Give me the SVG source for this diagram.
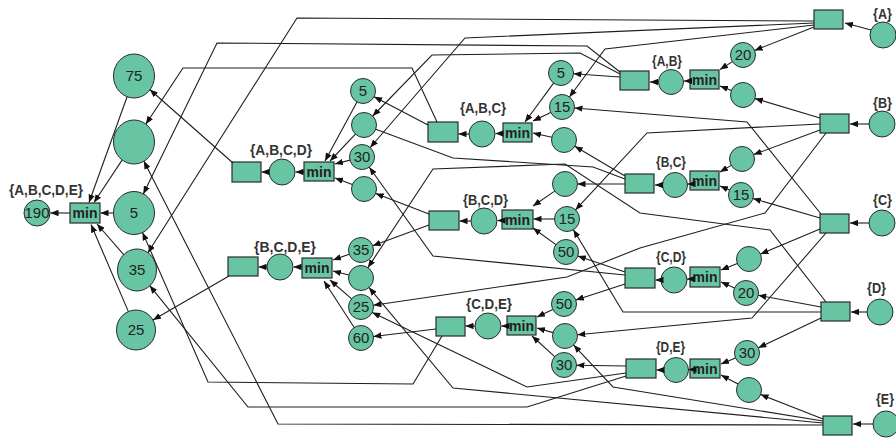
<svg xmlns="http://www.w3.org/2000/svg" width="896" height="439" viewBox="0 0 896 439">
<defs>
<marker id="ah" viewBox="0 0 10 8" refX="10" refY="4" markerWidth="8" markerHeight="6.4" markerUnits="userSpaceOnUse" orient="auto"><path d="M0,0L10,4L0,8z" fill="#111"/></marker>
</defs>
<style>
.c{fill:#67c5a4;stroke:#2b2b2b;stroke-width:1}
.r{fill:#67c5a4;stroke:#2b2b2b;stroke-width:1.2}
.l path{fill:none;stroke:#1e1e1e;stroke-width:1.1}
.l .a{marker-end:url(#ah)}
.n{font-family:"Liberation Sans",Arial,sans-serif;font-size:15px;fill:#222;text-anchor:middle}
.m{font-family:"Liberation Sans",Arial,sans-serif;font-size:14px;font-weight:bold;fill:#222;text-anchor:middle}
.t{font-family:"Liberation Sans",Arial,sans-serif;font-size:14px;font-weight:bold;fill:#333}
</style>
<rect width="896" height="439" fill="#fff"/>

<!-- Level 1 -->
<g id="A"><rect class="r" x="814" y="10" width="29" height="19"/><circle class="c" cx="883" cy="35" r="13"/><text class="t" x="873" y="19" textLength="19" lengthAdjust="spacingAndGlyphs">{A}</text></g>
<g id="B"><rect class="r" x="820" y="114" width="29" height="19"/><circle class="c" cx="882" cy="124" r="13"/><text class="t" x="873" y="108" textLength="19" lengthAdjust="spacingAndGlyphs">{B}</text></g>
<g id="C"><rect class="r" x="820" y="214" width="29" height="19"/><circle class="c" cx="882" cy="223" r="13"/><text class="t" x="873" y="205" textLength="19" lengthAdjust="spacingAndGlyphs">{C}</text></g>
<g id="D"><rect class="r" x="821" y="302" width="29" height="19"/><circle class="c" cx="880" cy="312" r="13"/><text class="t" x="867" y="293" textLength="19" lengthAdjust="spacingAndGlyphs">{D}</text></g>
<g id="E"><rect class="r" x="823" y="416" width="29" height="19"/><circle class="c" cx="886" cy="424" r="13"/><text class="t" x="876" y="404" textLength="18" lengthAdjust="spacingAndGlyphs">{E}</text></g>

<!-- Level 2 -->
<g id="AB"><rect class="r" x="620" y="71" width="29" height="19"/><circle class="c" cx="671" cy="82" r="12.5"/><rect class="r" x="690" y="70" width="29" height="19"/><text class="m" x="704.5" y="85">min</text><text class="t" x="652" y="66" textLength="30" lengthAdjust="spacingAndGlyphs">{A,B}</text></g>
<g id="AB-in1"><circle class="c" cx="743" cy="55" r="12.5"/><text class="n" x="743" y="60">20</text></g>
<g id="AB-in2"><circle class="c" cx="743" cy="95" r="12.5"/></g>
<g id="BC"><rect class="r" x="625" y="174" width="29" height="19"/><circle class="c" cx="675" cy="185" r="12.5"/><rect class="r" x="690" y="171" width="29" height="19"/><text class="m" x="704.5" y="186">min</text><text class="t" x="656" y="167" textLength="30" lengthAdjust="spacingAndGlyphs">{B,C}</text></g>
<g id="BC-in1"><circle class="c" cx="742" cy="159" r="12.5"/></g>
<g id="BC-in2"><circle class="c" cx="741" cy="195" r="12.5"/><text class="n" x="741" y="200">15</text></g>
<g id="CD"><rect class="r" x="625" y="268" width="30" height="20"/><circle class="c" cx="674" cy="280" r="13"/><rect class="r" x="690" y="267" width="30" height="20"/><text class="m" x="705" y="282">min</text><text class="t" x="656" y="262" textLength="30" lengthAdjust="spacingAndGlyphs">{C,D}</text></g>
<g id="CD-in1"><circle class="c" cx="749" cy="259" r="12.5"/></g>
<g id="CD-in2"><circle class="c" cx="746" cy="293" r="12.5"/><text class="n" x="746" y="298">20</text></g>
<g id="DE"><rect class="r" x="626" y="359" width="30" height="19"/><circle class="c" cx="676" cy="370" r="12.5"/><rect class="r" x="690" y="359" width="30" height="19"/><text class="m" x="705" y="374">min</text><text class="t" x="656" y="352" textLength="29" lengthAdjust="spacingAndGlyphs">{D,E}</text></g>
<g id="DE-in1"><circle class="c" cx="747" cy="353" r="12.5"/><text class="n" x="747" y="358">30</text></g>
<g id="DE-in2"><circle class="c" cx="749" cy="390" r="12.5"/></g>

<!-- Level 3 -->
<g id="ABC"><rect class="r" x="428" y="122" width="30" height="20"/><circle class="c" cx="482" cy="134" r="13"/><rect class="r" x="503" y="123" width="29" height="19"/><text class="m" x="517.5" y="138">min</text><text class="t" x="460" y="113" textLength="46" lengthAdjust="spacingAndGlyphs">{A,B,C}</text></g>
<g id="ABC-in1"><circle class="c" cx="561" cy="73" r="12.5"/><text class="n" x="561" y="78">5</text></g>
<g id="ABC-in2"><circle class="c" cx="562" cy="107" r="12.5"/><text class="n" x="562" y="112">15</text></g>
<g id="ABC-in3"><circle class="c" cx="564" cy="140" r="12.5"/></g>
<g id="BCD"><rect class="r" x="429" y="211" width="30" height="19"/><circle class="c" cx="484" cy="221" r="13"/><rect class="r" x="502" y="210" width="31" height="19"/><text class="m" x="517.5" y="225">min</text><text class="t" x="463" y="205" textLength="45" lengthAdjust="spacingAndGlyphs">{B,C,D}</text></g>
<g id="BCD-in1"><circle class="c" cx="565" cy="184" r="12.5"/></g>
<g id="BCD-in2"><circle class="c" cx="567" cy="219" r="12.5"/><text class="n" x="567" y="224">15</text></g>
<g id="BCD-in3"><circle class="c" cx="566" cy="252" r="12.5"/><text class="n" x="566" y="257">50</text></g>
<g id="CDE"><rect class="r" x="436" y="317" width="29" height="19"/><circle class="c" cx="488" cy="326" r="13"/><rect class="r" x="507" y="316" width="29" height="19"/><text class="m" x="521.5" y="331">min</text><text class="t" x="466" y="309" textLength="46" lengthAdjust="spacingAndGlyphs">{C,D,E}</text></g>
<g id="CDE-in1"><circle class="c" cx="564" cy="304" r="12.5"/><text class="n" x="564" y="309">50</text></g>
<g id="CDE-in2"><circle class="c" cx="565" cy="336" r="12.5"/></g>
<g id="CDE-in3"><circle class="c" cx="564" cy="365" r="12.5"/><text class="n" x="564" y="370">30</text></g>

<!-- Level 4 -->
<g id="ABCD"><rect class="r" x="232" y="162" width="29" height="20"/><circle class="c" cx="282" cy="172" r="13"/><rect class="r" x="304" y="162" width="30" height="19"/><text class="m" x="319" y="177">min</text><text class="t" x="250" y="155" textLength="62" lengthAdjust="spacingAndGlyphs">{A,B,C,D}</text></g>
<g id="ABCD-in1"><circle class="c" cx="363" cy="91" r="12.5"/><text class="n" x="363" y="96">5</text></g>
<g id="ABCD-in2"><circle class="c" cx="364" cy="125" r="12.5"/></g>
<g id="ABCD-in3"><circle class="c" cx="362" cy="157" r="12.5"/><text class="n" x="362" y="162">30</text></g>
<g id="ABCD-in4"><circle class="c" cx="364" cy="189" r="12.5"/></g>
<g id="BCDE"><rect class="r" x="228" y="257" width="30" height="19"/><circle class="c" cx="280" cy="267" r="13"/><rect class="r" x="302" y="258" width="30" height="20"/><text class="m" x="317" y="273">min</text><text class="t" x="254" y="252" textLength="62" lengthAdjust="spacingAndGlyphs">{B,C,D,E}</text></g>
<g id="BCDE-in1"><circle class="c" cx="361" cy="250" r="12.5"/><text class="n" x="361" y="255">35</text></g>
<g id="BCDE-in2"><circle class="c" cx="361" cy="278" r="12.5"/></g>
<g id="BCDE-in3"><circle class="c" cx="361" cy="307" r="12.5"/><text class="n" x="361" y="312">25</text></g>
<g id="BCDE-in4"><circle class="c" cx="361" cy="338" r="12.5"/><text class="n" x="361" y="343">60</text></g>

<!-- Level 5 -->
<g id="ABCDE-in1"><ellipse class="c" cx="134" cy="76" rx="20.5" ry="22"/><text class="n" x="134" y="81">75</text></g>
<g id="ABCDE-in2"><ellipse class="c" cx="134" cy="142" rx="20.5" ry="22"/></g>
<g id="ABCDE-in3"><ellipse class="c" cx="134" cy="213" rx="20.5" ry="21.5"/><text class="n" x="134" y="218">5</text></g>
<g id="ABCDE-in4"><ellipse class="c" cx="137" cy="270" rx="19.5" ry="21"/><text class="n" x="137" y="275">35</text></g>
<g id="ABCDE-in5"><ellipse class="c" cx="136" cy="330" rx="19.5" ry="20"/><text class="n" x="136" y="335">25</text></g>
<g id="ABCDE"><rect class="r" x="70" y="203" width="30" height="20"/><text class="m" x="85" y="218">min</text><text class="t" x="9" y="195" textLength="74" lengthAdjust="spacingAndGlyphs">{A,B,C,D,E}</text></g>
<g id="ABCDE-out"><circle class="c" cx="37" cy="213" r="13"/><text class="n" x="37" y="218">190</text></g>

<g id="connectors" class="l">
<path class="a" d="M871,30L845,23"/>
<path class="a" d="M869,124L850,124"/>
<path class="a" d="M869,223L850,223"/>
<path class="a" d="M867,312L851,312"/>
<path class="a" d="M873,424L853,424"/>
<path class="a" d="M814,27L754.6,50.4"/>
<path class="a" d="M820,118L755,98.6"/>
<path class="a" d="M820,130L753.7,154.6"/>
<path class="a" d="M820,218L753,198.5"/>
<path class="a" d="M820,229L760.5,254.1"/>
<path class="a" d="M821,307L758.3,295.3"/>
<path class="a" d="M821,318L758.4,347.8"/>
<path class="a" d="M823,419L760.6,394.6"/>
<path class="a" d="M732.4,61.6L720,69.5"/>
<path class="a" d="M731.4,90.4L720,86"/>
<path class="a" d="M690,81L684,81"/>
<path class="a" d="M658.5,82L650,82"/>
<path class="a" d="M731.2,165.4L720,172"/>
<path class="a" d="M729.5,190.1L720,186"/>
<path class="a" d="M690,184L687.5,184"/>
<path class="a" d="M662,185L655,185"/>
<path class="a" d="M737.4,263.6L721,270"/>
<path class="a" d="M734.6,288L721,282"/>
<path class="a" d="M690,279L687,279"/>
<path class="a" d="M661,280L655.5,280"/>
<path class="a" d="M735.5,357.9L721,364"/>
<path class="a" d="M738,384.1L721,375"/>
<path class="a" d="M690,369.5L688.5,369.5"/>
<path class="a" d="M663,370L656.5,370"/>
<path class="a" d="M814,21L297,18L147.9,252.8"/>
<path class="a" d="M814,23L465,38L370.2,147.5"/>
<path class="a" d="M814,25L605,49L569.4,97"/>
<path class="a" d="M820,124L647,133L575.5,209.9"/>
<path class="a" d="M826,133L765,213L640,248L567,277L373.4,305.2"/>
<path class="a" d="M821,214L747,122L574.5,108"/>
<path class="a" d="M826,233L752,318L577.4,334.8"/>
<path class="a" d="M826,302L770,230L640,213L565,164L433,169L367.9,267.6"/>
<path class="a" d="M821,312L623,312L573.4,229.7"/>
<path class="a" d="M823,421L613,387L573.6,345.1"/>
<path class="a" d="M823,423L453,388L369,287.6"/>
<path class="a" d="M823,425L278,424L143.8,161.1"/>
<path class="a" d="M620,77L573.5,73.8"/>
<path class="a" d="M620,72L587,46L217,43L143.3,194"/>
<path class="a" d="M620,74L580,53L432,55L372.7,116"/>
<path class="a" d="M625,176L574.8,146.2"/>
<path class="a" d="M625,184L577.5,184"/>
<path d="M625,179L593,167L453,158L375.7,129.3"/>
<path class="a" d="M625,272L577.8,256"/>
<path class="a" d="M625,284L575.8,299.9"/>
<path class="a" d="M625,275L433,256L369.3,167.2"/>
<path class="a" d="M626,366L576.5,365.2"/>
<path class="a" d="M626,373L527,387L372.3,312.4"/>
<path class="a" d="M626,376L527,407L248,407L149.7,285.6"/>
<path class="a" d="M553.6,83.1L525,122"/>
<path class="a" d="M550.7,112.4L533,121"/>
<path class="a" d="M551.8,137.3L533,133"/>
<path class="a" d="M503,133.5L495.5,133.5"/>
<path class="a" d="M469,134L458.5,134"/>
<path class="a" d="M554.7,191.1L533,206"/>
<path class="a" d="M554.5,219L533.5,219"/>
<path class="a" d="M555.9,244.6L533,228"/>
<path class="a" d="M502,220.5L497.5,220.5"/>
<path class="a" d="M471,221L459.5,221"/>
<path class="a" d="M552.7,309.4L537,317"/>
<path class="a" d="M553,332.6L537,328"/>
<path class="a" d="M554.7,356.6L532,336"/>
<path class="a" d="M507,326L501.5,326"/>
<path class="a" d="M475,326L465.5,326"/>
<path class="a" d="M428,125L374.1,96.7"/>
<path class="a" d="M437,122L412,68L183,68L145.8,124.2"/>
<path class="a" d="M429,214L375.7,193.5"/>
<path class="a" d="M429,225L372.7,245.7"/>
<path class="a" d="M436,329L373.4,336.5"/>
<path class="a" d="M442,336L413,384L208,382L142.5,232.4"/>
<path class="a" d="M357,102L325,161"/>
<path class="a" d="M355.4,134.1L330,161"/>
<path class="a" d="M349.9,160.1L335,164"/>
<path class="a" d="M352.3,184.6L335,178"/>
<path class="a" d="M304,172L295.5,172"/>
<path class="a" d="M269,172L261.5,172"/>
<path class="a" d="M349.2,254.2L333,260"/>
<path class="a" d="M348.9,275L333,271"/>
<path class="a" d="M351.6,298.8L330,280"/>
<path class="a" d="M354.2,327.5L324,281"/>
<path class="a" d="M302,267L293.5,267"/>
<path class="a" d="M267,267L258.5,267"/>
<path class="a" d="M233,163L149.8,89.5"/>
<path class="a" d="M229,276L153,320"/>
<path class="a" d="M127.1,96.7L89,202.5"/>
<path class="a" d="M122.2,159.9L94,202.5"/>
<path class="a" d="M113.5,213L100.5,213"/>
<path class="a" d="M123.7,254.7L97,224"/>
<path class="a" d="M128.4,311.6L91,224.5"/>
<path class="a" d="M70,213L50.5,213"/>
</g>
</svg>
